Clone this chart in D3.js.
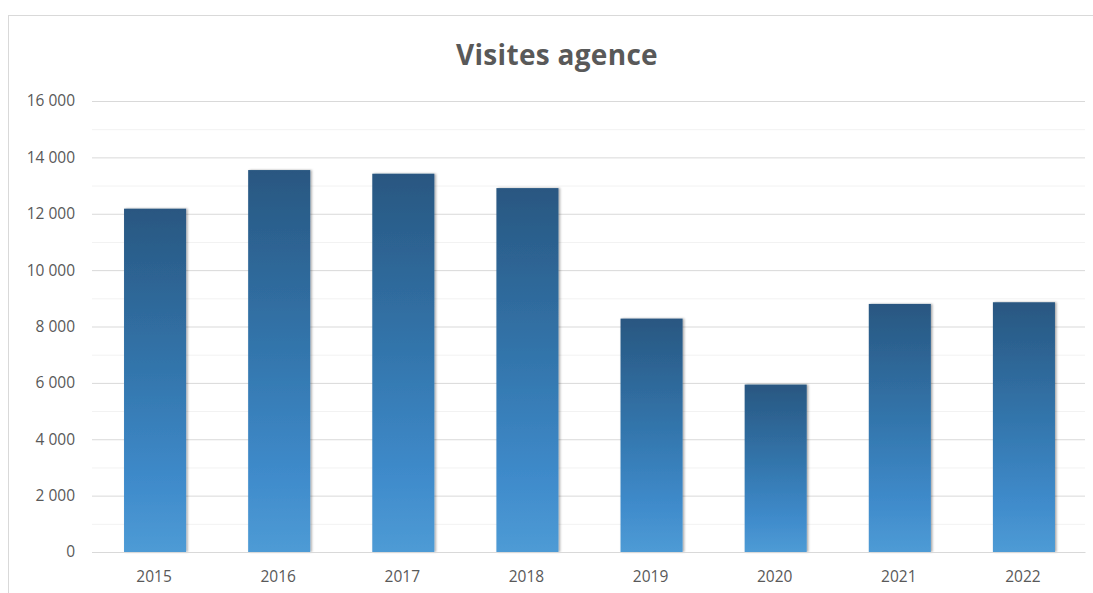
<!DOCTYPE html>
<html>
<head>
<meta charset="utf-8">
<script src="https://cdn.jsdelivr.net/npm/d3@7.9.0/dist/d3.min.js"></script>
<style>
  body { margin: 0; background: #fff; font-family: "Open Sans", "Liberation Sans", sans-serif; }
</style>
</head>
<body>
<svg id="chart" width="1093" height="593"></svg>
<script>
// data
const years = ['2015', '2016', '2017', '2018', '2019', '2020', '2021', '2022'];
const visits = [12180, 13550, 13420, 12910, 8280, 5940, 8800, 8860];
const yTicks = [0, 2000, 4000, 6000, 8000, 10000, 12000, 14000, 16000];
const minorTicks = [1000, 3000, 5000, 7000, 9000, 11000, 13000, 15000];
const title = 'Visites agence';

const svg = d3.select('#chart');
const W = 1093, H = 593;
const margin = { top: 101, right: 8, bottom: 41, left: 92 };
const innerW = W - margin.left - margin.right;
const innerH = H - margin.top - margin.bottom;

// chart frame (cropped on right and bottom)
svg.append('rect')
  .attr('x', 8.5).attr('y', 15.5)
  .attr('width', W + 10).attr('height', H + 10)
  .attr('fill', '#fff')
  .attr('stroke', '#d9d9d9');

const defs = svg.append('defs');
const grad = defs.append('linearGradient')
  .attr('id', 'barGrad')
  .attr('x1', 0).attr('y1', 0).attr('x2', 0).attr('y2', 1);
grad.append('stop').attr('offset', '0%').attr('stop-color', '#295781');
grad.append('stop').attr('offset', '45%').attr('stop-color', '#3274aa');
grad.append('stop').attr('offset', '80%').attr('stop-color', '#3f8bcb');
grad.append('stop').attr('offset', '100%').attr('stop-color', '#4e9bd5');

const shadow = defs.append('filter').attr('id', 'shadow')
  .attr('x', '-10%').attr('y', '-5%').attr('width', '130%').attr('height', '115%');
shadow.append('feDropShadow')
  .attr('dx', 1.5).attr('dy', 0).attr('stdDeviation', 1.2)
  .attr('flood-color', '#000').attr('flood-opacity', 0.35);

const g = svg.append('g')
  .attr('transform', `translate(${margin.left},${margin.top})`);

const x = d3.scaleBand()
  .domain(years)
  .range([0, innerW])
  .paddingInner(0.5)
  .paddingOuter(0.25);

const y = d3.scaleLinear()
  .domain([0, 16000])
  .range([innerH, 0]);

// minor gridlines
g.append('g')
  .selectAll('line')
  .data(minorTicks)
  .join('line')
  .attr('x1', 0).attr('x2', innerW)
  .attr('y1', d => y(d) + 0.5).attr('y2', d => y(d) + 0.5)
  .attr('stroke', '#f2f2f2');

// major gridlines + labels
const fmt = v => d3.format(',')(v).replace(/,/g, ' ');
const yAxis = g.append('g')
  .call(d3.axisLeft(y).tickValues(yTicks).tickSize(-innerW).tickFormat(fmt).tickPadding(17));
yAxis.select('.domain').remove();
yAxis.selectAll('.tick line').attr('stroke', '#d9d9d9');
yAxis.selectAll('.tick text')
  .attr('fill', '#595959')
  .style('font-size', '15.5px')
  .style('font-family', '"Open Sans", "Liberation Sans", sans-serif');

// bars
g.selectAll('rect.bar')
  .data(years.map((yr, i) => ({ year: yr, value: visits[i] })))
  .join('rect')
  .attr('class', 'bar')
  .attr('x', d => x(d.year) + 1)
  .attr('y', d => y(d.value))
  .attr('width', x.bandwidth())
  .attr('height', d => innerH - y(d.value))
  .attr('fill', 'url(#barGrad)')
  .attr('filter', 'url(#shadow)');

// x axis
const xAxis = g.append('g')
  .attr('transform', `translate(0,${innerH})`)
  .call(d3.axisBottom(x).tickSize(0).tickPadding(19));
xAxis.select('.domain').attr('stroke', '#d9d9d9');
xAxis.selectAll('.tick text')
  .attr('fill', '#595959')
  .style('font-size', '15.5px')
  .style('font-family', '"Open Sans", "Liberation Sans", sans-serif');

// title
svg.append('text')
  .attr('x', 557).attr('y', 65)
  .attr('text-anchor', 'middle')
  .attr('fill', '#595959')
  .style('font-size', '28px')
  .style('font-weight', 'bold')
  .style('letter-spacing', '0.3px')
  .style('font-family', '"Open Sans", "Liberation Sans", sans-serif')
  .text(title);
</script>
</body>
</html>
